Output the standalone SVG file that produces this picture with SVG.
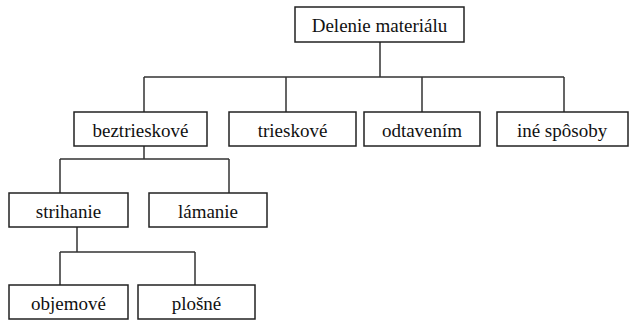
<svg xmlns="http://www.w3.org/2000/svg" width="630" height="322" viewBox="0 0 630 322" font-family="'Liberation Serif', 'Times New Roman', 'DejaVu Serif', serif">
<style>
.box{fill:#fff;stroke:#222;stroke-width:1.5}
.t{font-family:'Liberation Serif','Times New Roman','DejaVu Serif',serif;font-size:19px;fill:#111;text-anchor:middle}
.c{fill:none;stroke:#333;stroke-width:1.5}
</style>
<rect width="630" height="322" fill="#fff"/>
<g id="connectors">
<path class="c" d="M380 42V77M144 77H564M144 77V112M286 77V112M422 77V112M564 77V112"/>
<path class="c" d="M144 146V159M60 159H229M60 159V193M229 159V193"/>
<path class="c" d="M77 227V252M60 252H195M60 252V285M195 252V285"/>
</g>
<g id="root"><rect class="box" x="295" y="7" width="169" height="35"/><text class="t" x="379.5" y="31.5">Delenie materiálu</text></g>
<g id="beztrieskove"><rect class="box" x="74" y="112" width="133" height="34"/><text class="t" x="140.5" y="136.5">beztrieskové</text></g>
<g id="trieskove"><rect class="box" x="229" y="112" width="127" height="34"/><text class="t" x="292.5" y="136.5">trieskové</text></g>
<g id="odtavenim"><rect class="box" x="364" y="112" width="116" height="34"/><text class="t" x="422" y="136.5">odtavením</text></g>
<g id="ine"><rect class="box" x="497" y="112" width="131" height="34"/><text class="t" x="562" y="136.5">iné spôsoby</text></g>
<g id="strihanie"><rect class="box" x="9" y="193" width="119" height="34"/><text class="t" x="68.5" y="217.5">strihanie</text></g>
<g id="lamanie"><rect class="box" x="149" y="193" width="118" height="34"/><text class="t" x="208" y="217.5">lámanie</text></g>
<g id="objemove"><rect class="box" x="9" y="285" width="119" height="34"/><text class="t" x="68.5" y="309.5">objemové</text></g>
<g id="plosne"><rect class="box" x="138" y="285" width="117" height="34"/><text class="t" x="196.5" y="309.5">plošné</text></g>
</svg>
